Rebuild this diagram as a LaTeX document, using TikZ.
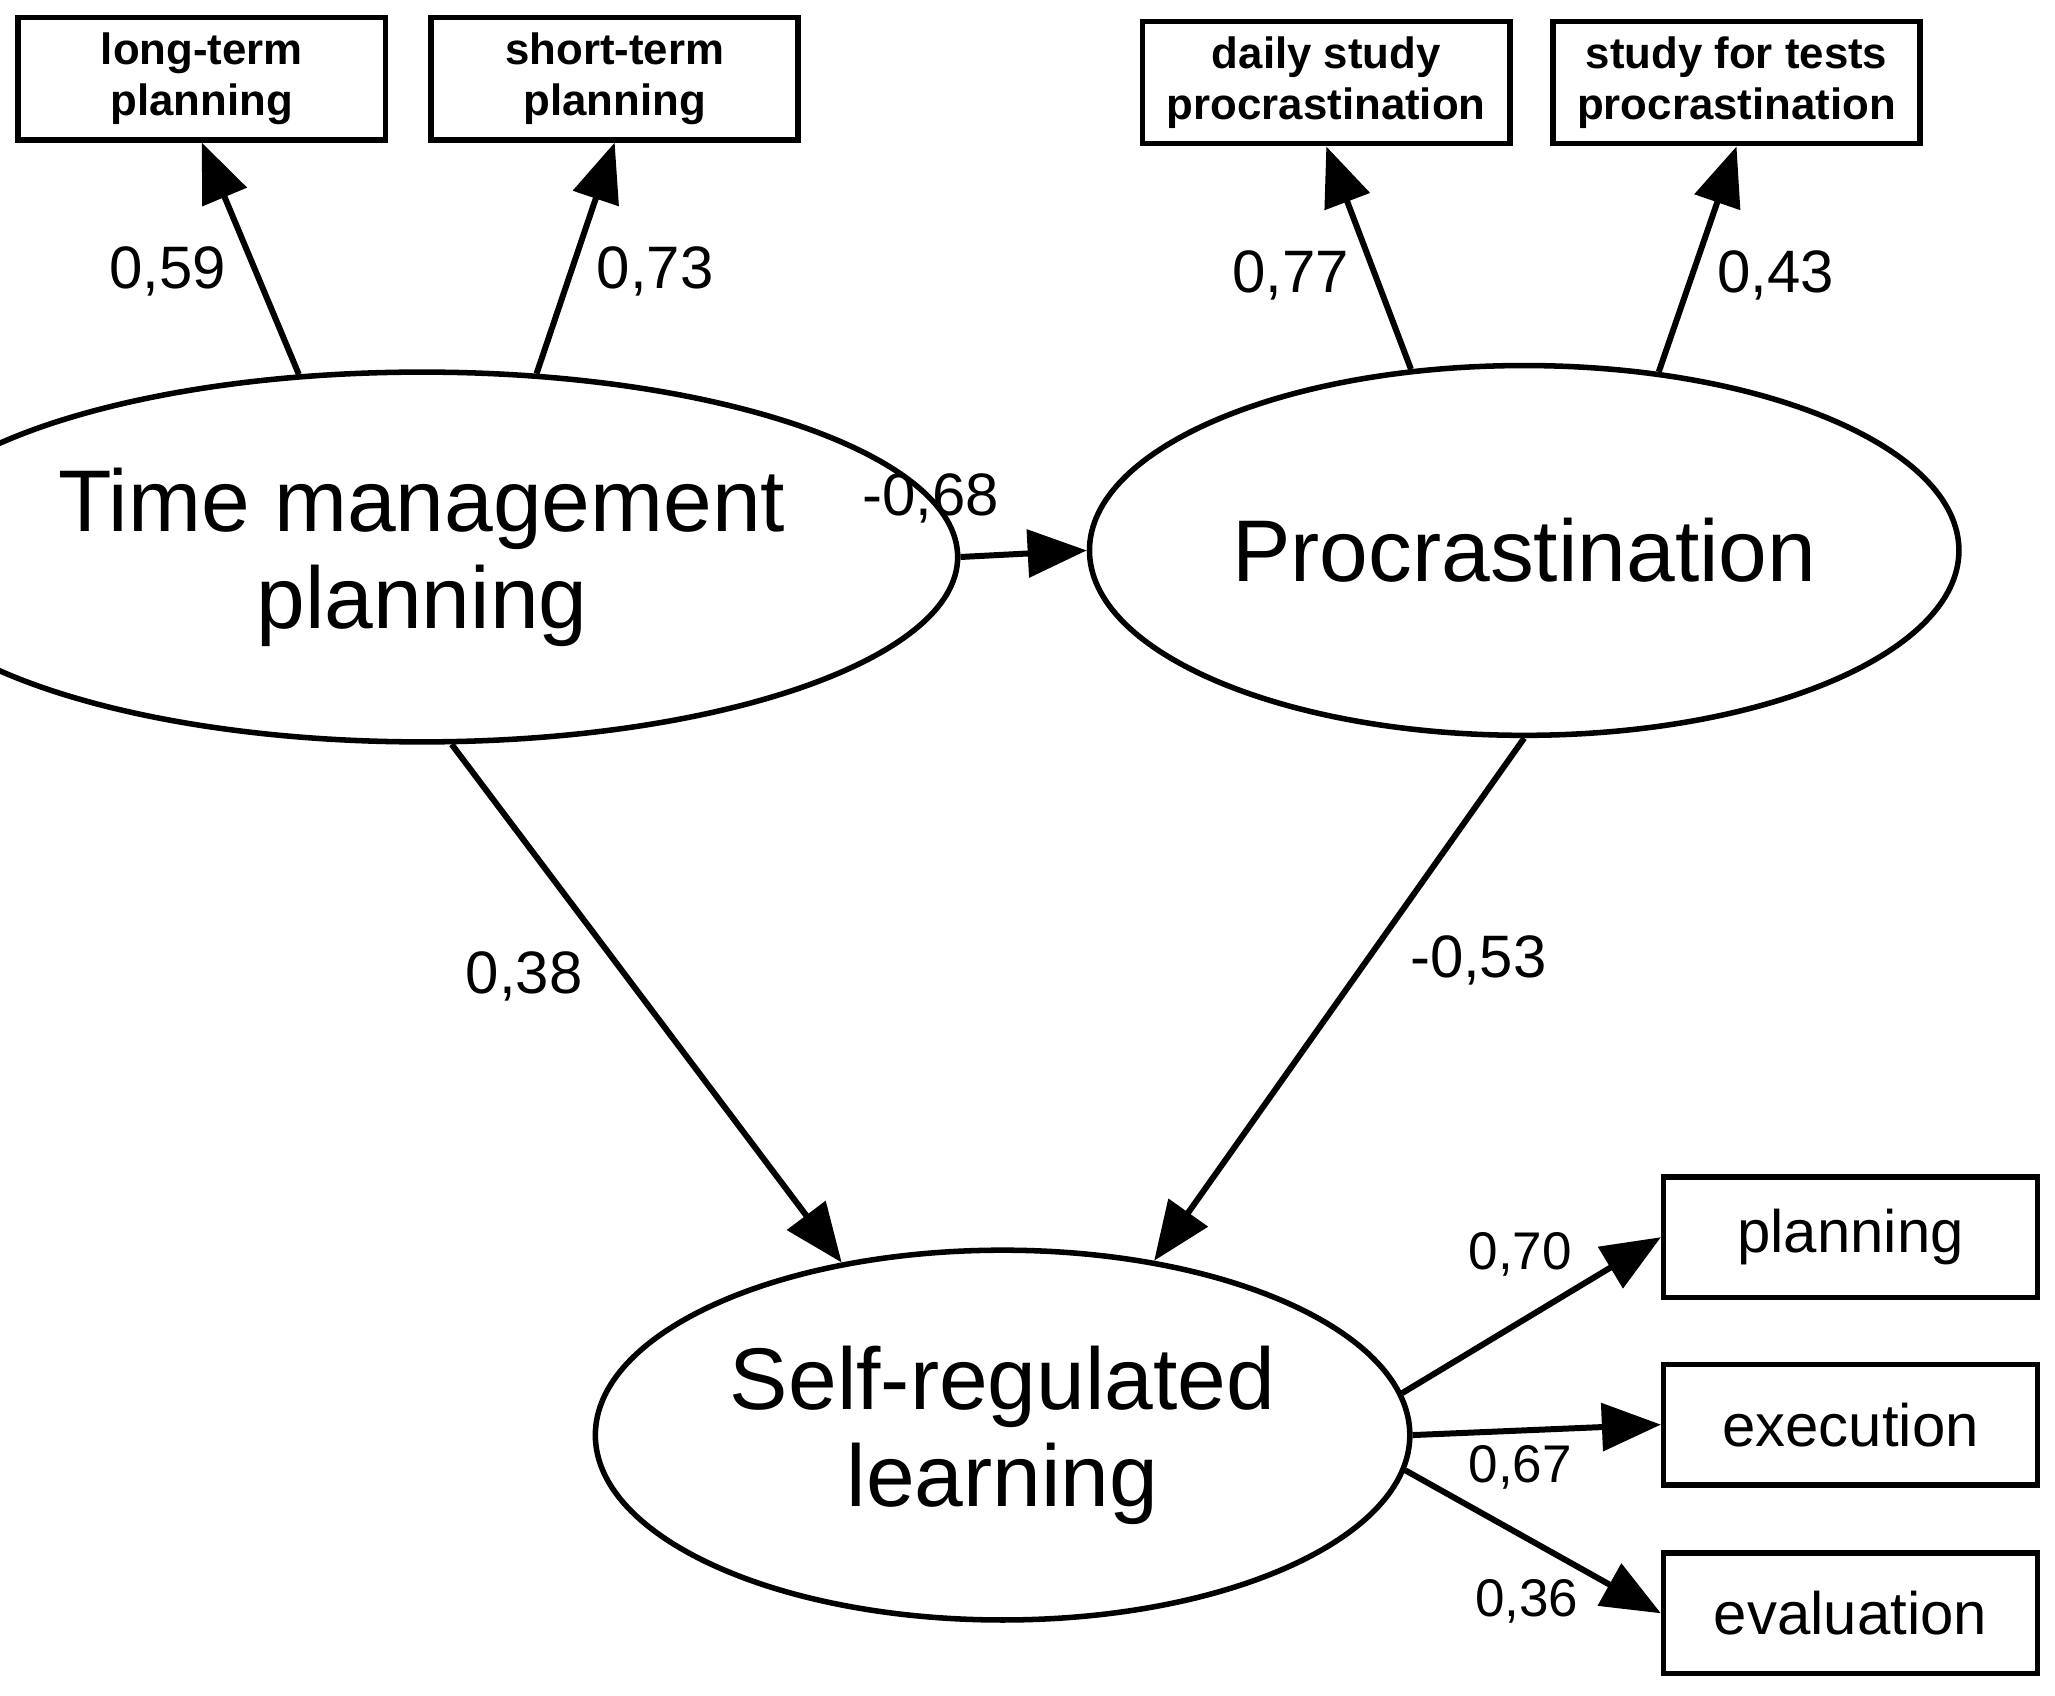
\documentclass[tikz,border=0pt]{standalone}
\usepackage{fontspec}
\setmainfont{Liberation Sans}
\usetikzlibrary{shapes.geometric,arrows.meta}
\begin{document}
\begin{tikzpicture}[x=0.01cm,y=-0.01cm,
  lat/.style={draw,ellipse,line width=1.2pt,minimum width=6.2cm,minimum height=2.82cm,align=center,font=\fontsize{19}{21}\selectfont},
  sbox/.style={draw,line width=1.2pt,minimum width=2.8cm,minimum height=0.93cm,align=center,font=\bfseries\fontsize{9.5}{11}\selectfont},
  rbox/.style={draw,line width=1.2pt,minimum width=2.85cm,minimum height=0.92cm,font=\fontsize{13}{15}\selectfont},
  arr/.style={line width=1.3pt,-{Triangle[length=0.45cm,width=0.36cm]}},
  lab/.style={font=\fontsize{13}{15}\selectfont},
  slab/.style={font=\fontsize{11.5}{13}\selectfont}]
\useasboundingbox (0,0) rectangle (1568,1294);
\node[sbox] (lt) at (154,60) {long-term\\planning};
\node[sbox] (st) at (469,60) {short-term\\planning};
\node[sbox] (ds) at (1012,63) {daily study\\procrastination};
\node[sbox] (tp) at (1325,63) {study for tests\\procrastination};
\node[lat] (tmp) at (322,425) {Time management\\planning};
\node[lat] (pro) at (1163,420) {Procrastination};
\node[lat] (srl) at (765,1095) {Self-regulated\\learning};
\node[rbox] (pl) at (1412,944) {planning};
\node[rbox] (ex) at (1412,1087) {execution};
\node[rbox] (ev) at (1412,1231) {evaluation};
\draw[arr] (tmp.124) -- (lt.south);
\draw[arr] (tmp.58) -- (st.south);
\draw[arr] (pro.122) -- (ds.south);
\draw[arr] (pro.53) -- (tp.south);
\draw[arr] (tmp.east) -- (pro.west);
\draw[arr] (tmp.279) -- (srl.133);
\draw[arr] (pro.south) -- (srl.49);
\draw[arr] (srl.6) -- (pl.west);
\draw[arr] (srl.0) -- (ex.west);
\draw[arr] (srl.-5) -- (ev.west);
\node[lab] (l1) at (128,207) {0,59};
\node[lab] (l2) at (500,207) {0,73};
\node[lab] (l3) at (985,210) {0,77};
\node[lab] (l4) at (1355,210) {0,43};
\node[lab] (l5) at (710,380) {-0,68};
\node[lab] (l6) at (400,745) {0,38};
\node[lab] (l7) at (1128,733) {-0,53};
\node[slab] (l8) at (1160,957) {0,70};
\node[slab] (l9) at (1160,1120) {0,67};
\node[slab] (l10) at (1165,1222) {0,36};
\end{tikzpicture}
\end{document}
